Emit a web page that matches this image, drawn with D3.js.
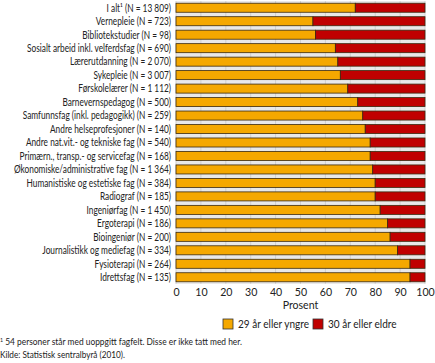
<!DOCTYPE html>
<html><head><meta charset="utf-8">
<script src="https://cdn.jsdelivr.net/npm/d3@7"></script>
<style>
body{margin:0;background:#fff;}
svg{display:block;font-family:Lato,sans-serif;}
</style></head>
<body><svg id="c" width="435" height="363"></svg>
<script>
const categories = ["I alt¹ (N = 13 809)","Vernepleie (N = 723)","Bibliotekstudier (N = 98)","Sosialt arbeid inkl. velferdsfag (N = 690)","Lærerutdanning (N = 2 070)","Sykepleie (N = 3 007)","Førskolelærer (N = 1 112)","Barnevernspedagog (N = 500)","Samfunnsfag (inkl. pedagogikk) (N = 259)","Andre helseprofesjoner (N = 140)","Andre nat.vit.- og tekniske fag (N = 540)","Primærn., transp.- og servicefag (N = 168)","Økonomiske/administrative fag (N = 1 364)","Humanistiske og estetiske fag (N = 384)","Radiograf (N = 185)","Ingeniørfag (N = 1 450)","Ergoterapi (N = 186)","Bioingeniør (N = 200)","Journalistikk og mediefag (N = 334)","Fysioterapi (N = 264)","Idrettsfag (N = 135)"];
const young = [72,55,56,64,65,66,69,73,75,76,78,78,79,80,80,82,85,86,89,94,94];
const old = young.map(v => 100 - v);
const seriesNames = ["29 år eller yngre","30 år eller eldre"];
const colors = ["#f5a800","#c00000"];
const ticks = [0,10,20,30,40,50,60,70,80,90,100];

const svg = d3.select("#c");
const x = d3.scaleLinear().domain([0,100]).range([176,425]);
const y = d3.scaleBand().domain(categories).range([1,284]).paddingInner(0.33).paddingOuter(0.165);

svg.append("rect").attr("x",x(0)).attr("y",1).attr("width",x(100)-x(0)).attr("height",283).attr("fill","#e9e9e9");
svg.append("g").selectAll("line").data(ticks).join("line")
  .attr("x1",d=>x(d)).attr("x2",d=>x(d)).attr("y1",1).attr("y2",284)
  .attr("stroke","#d0d0d0").attr("stroke-width",1);

const data = categories.map((c,i)=>({c, v:[young[i], old[i]]}));
const g = svg.append("g");
data.forEach(d=>{
  let acc = 0;
  d.v.forEach((v,j)=>{
    g.append("rect").attr("x",x(acc)).attr("y",y(d.c)).attr("width",x(acc+v)-x(acc)).attr("height",y.bandwidth())
      .attr("fill",colors[j]).attr("stroke","#3a2a10").attr("stroke-width",0.8);
    acc += v;
  });
});

const FS = 10.6;
function condense(sel, ratio){
  sel.each(function(){ const w=this.getComputedTextLength(); d3.select(this).attr("textLength",(w*ratio).toFixed(1)).attr("lengthAdjust","spacingAndGlyphs"); });
}
const labels = svg.append("g").selectAll("text").data(categories).join("text")
  .attr("x",171).attr("y",d=>y(d)+y.bandwidth()/2).attr("dy","0.36em")
  .attr("text-anchor","end").attr("font-size",FS+"px").attr("fill","#222").text(d=>d);
let maxW = 0; labels.each(function(){ maxW = Math.max(maxW, this.getComputedTextLength()); });
const ratio = Math.min(1, 157/maxW);
condense(labels, ratio);

const ax = svg.append("g").attr("transform","translate(0,284)")
  .call(d3.axisBottom(x).tickValues(ticks).tickSize(0).tickPadding(4));
ax.select(".domain").remove();
ax.selectAll("text").attr("font-size","10.6px").attr("fill","#222").attr("font-family","Lato");
svg.append("text").attr("x",(x(0)+x(100))/2).attr("y",309).attr("text-anchor","middle")
  .attr("font-size","10.6px").attr("fill","#222").text("Prosent");

const leg = [{x:223},{x:313}];
seriesNames.forEach((s,i)=>{
  svg.append("rect").attr("x",leg[i].x).attr("y",319).attr("width",10).attr("height",10)
    .attr("fill",colors[i]).attr("stroke","#333").attr("stroke-width",0.8);
  const t = svg.append("text").attr("x",leg[i].x+15).attr("y",327.5).attr("font-size","10.8px").attr("fill","#222").text(s);
  condense(t, 0.93);
});

const f1 = svg.append("text").attr("x",0).attr("y",345).attr("font-size","8.8px").attr("fill","#222")
  .html('<tspan baseline-shift="super" font-size="5.5px">1</tspan> 54 personer står med uoppgitt fagfelt. Disse er ikke tatt med her.');
const f2 = svg.append("text").attr("x",0).attr("y",358).attr("font-size","8.8px").attr("fill","#222")
  .text("Kilde: Statistisk sentralbyrå (2010).");
condense(f1, Math.min(1, 242/f1.node().getComputedTextLength()));
condense(f2, Math.min(1, 125/f2.node().getComputedTextLength()));
</script></body></html>
